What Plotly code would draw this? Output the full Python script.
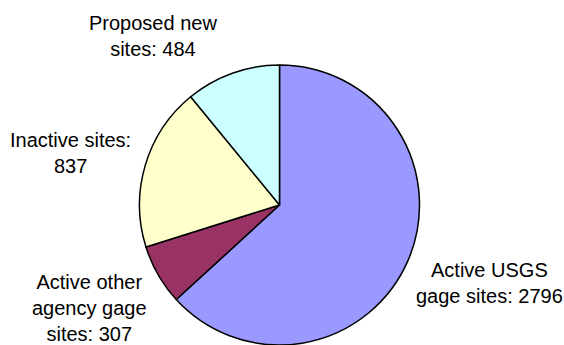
import plotly.graph_objects as go

labels = ["Active USGS gage sites", "Active other agency gage sites", "Inactive sites", "Proposed new sites"]
values = [2796, 307, 837, 484]
label_text = ["Active USGS<br>gage sites: 2796",
              "Active other<br>agency gage<br>sites: 307",
              "Inactive sites:<br>837",
              "Proposed new<br>sites: 484"]
colors = ["#9999FF", "#993366", "#FFFFCC", "#CCFFFF"]

W, H = 564, 345
# label centers in pixels
label_pos = [(489, 283), (89.5, 308), (70.5, 153), (152.5, 36)]

cx, cy, r = 279.5, 205, 140
fig = go.Figure(go.Pie(
    labels=labels, values=values,
    marker=dict(colors=colors, line=dict(color="black", width=1.5)),
    sort=False, direction="clockwise", rotation=0,
    textinfo="none", showlegend=False,
    domain=dict(x=[(cx - r) / W, (cx + r) / W], y=[max(0, (H - cy - r) / H), (H - cy + r) / H]),
))

for t, (px, py) in zip(label_text, label_pos):
    fig.add_annotation(text=t, x=px / W, y=(H - py) / H, xref="paper", yref="paper",
                       xanchor="center", yanchor="middle", showarrow=False,
                       font=dict(size=20, color="black", family="Liberation Sans, Arial, sans-serif"))

fig.update_layout(width=W, height=H, margin=dict(l=0, r=0, t=0, b=0),
                  paper_bgcolor="white", plot_bgcolor="white")
fig.write_html("out.html", config={"displayModeBar": False},
               post_script="document.body.style.margin='0';document.body.style.overflow='hidden';")
